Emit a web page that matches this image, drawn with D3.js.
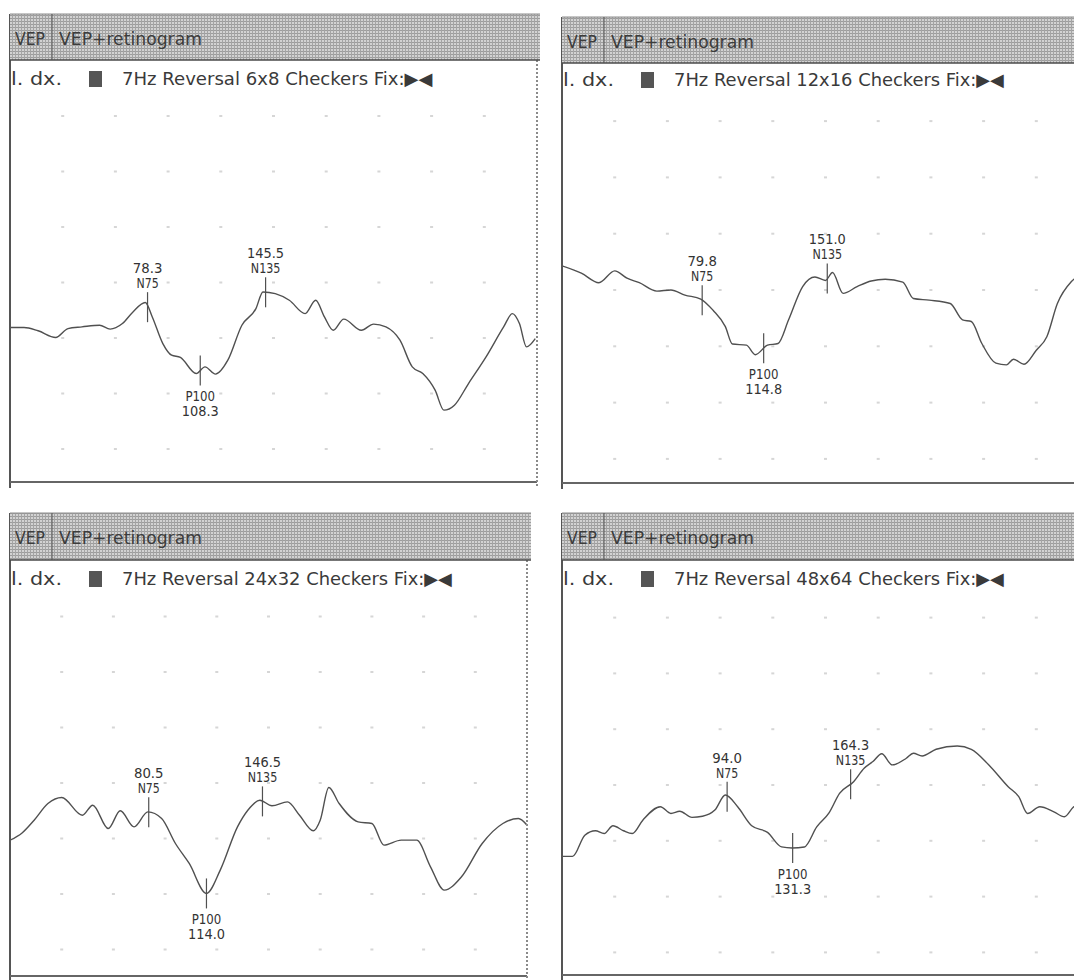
<!DOCTYPE html>
<html>
<head>
<meta charset="utf-8">
<script src="https://cdn.jsdelivr.net/npm/d3@7"></script>
<style>
  body { margin: 0; background: #fff; }
  text { font-family: "Liberation Sans Narrow", "DejaVu Sans Condensed", "Liberation Sans", sans-serif; }
</style>
</head>
<body>
<svg id="chart" width="1074" height="980"></svg>
<script>
// stimulus / peak names
const checkerSizes = ['6x8', '12x16', '24x32', '48x64'];
const peakNames = ['N75', 'P100', 'N135'];

// peak latencies (ms), same order as peakNames
const peaks6x8 = [78.3, 108.3, 145.5];
const peaks12x16 = [79.8, 114.8, 151.0];
const peaks24x32 = [80.5, 114.0, 146.5];
const peaks48x64 = [94.0, 131.3, 164.3];

// traces: time (ms) and amplitude (grid divisions, up = negative)
const t6x8 = [0, 8, 16, 26, 33, 41, 51, 57, 64, 70, 77, 81, 87, 92, 97, 106, 111, 117, 124, 132, 140, 144, 151, 159, 168, 174, 179, 184, 190, 200, 207, 214, 222, 229, 235, 242, 247, 253, 261, 271, 281, 286, 290, 294, 299];
const v6x8 = [-0.81, -0.81, -0.87, -0.99, -0.83, -0.80, -0.77, -0.84, -0.74, -0.53, -0.36, -0.62, -1.10, -1.31, -1.35, -1.64, -1.52, -1.65, -1.40, -0.77, -0.47, -0.17, -0.20, -0.32, -0.56, -0.32, -0.62, -0.86, -0.66, -0.86, -0.75, -0.80, -1.04, -1.52, -1.64, -1.94, -2.30, -2.21, -1.82, -1.34, -0.80, -0.56, -0.74, -1.16, -1.01];

const t12x16 = [0, 11, 21, 30, 37, 44, 54, 62, 70, 79, 86, 93, 97, 105, 110, 117, 123, 129, 137, 144, 150, 154, 160, 168, 176, 184, 194, 200, 209, 221, 228, 233, 239, 247, 253, 257, 263, 270, 276, 282, 290, 297];
const v12x16 = [0.43, 0.30, 0.13, 0.34, 0.21, 0.13, -0.02, 0.00, -0.09, -0.16, -0.36, -0.65, -0.96, -0.98, -1.15, -0.98, -0.95, -0.53, 0.06, 0.23, 0.17, 0.31, -0.06, 0.06, 0.16, 0.19, 0.14, -0.15, -0.18, -0.24, -0.53, -0.56, -0.95, -1.30, -1.33, -1.23, -1.32, -1.07, -0.83, -0.24, 0.15, 0.30];

const t24x32 = [0, 7, 14, 22, 30, 42, 48, 57, 64, 72, 80, 88, 96, 104, 114, 122, 132, 138, 145, 152, 161, 168, 176, 180, 185, 191, 202, 210, 217, 227, 236, 244, 252, 262, 274, 286, 295, 300];
const v24x32 = [-1.03, -0.90, -0.67, -0.37, -0.26, -0.58, -0.40, -0.82, -0.50, -0.79, -0.52, -0.64, -1.09, -1.45, -1.99, -1.57, -0.79, -0.49, -0.31, -0.41, -0.34, -0.58, -0.86, -0.67, -0.08, -0.37, -0.70, -0.73, -1.12, -1.03, -1.03, -1.51, -1.93, -1.69, -1.09, -0.73, -0.64, -0.76];

const t48x64 = [0, 6, 13, 19, 24, 29, 35, 40, 46, 56, 62, 67, 74, 80, 87, 93, 100, 108, 117, 125, 131, 138, 145, 152, 158, 166, 172, 177, 182, 188, 196, 200, 205, 213, 225, 233, 243, 254, 260, 265, 272, 280, 286, 291, 297];
const v48x64 = [-1.28, -1.28, -0.90, -0.82, -0.87, -0.73, -0.82, -0.87, -0.63, -0.39, -0.51, -0.47, -0.58, -0.56, -0.45, -0.18, -0.39, -0.73, -0.85, -1.11, -1.13, -1.11, -0.75, -0.50, -0.15, 0.06, 0.30, 0.42, 0.56, 0.36, 0.48, 0.57, 0.52, 0.64, 0.70, 0.64, 0.36, -0.03, -0.21, -0.51, -0.39, -0.48, -0.57, -0.40, -0.30];

// grid dot positions
const dotTimes = [30, 60, 90, 120, 150, 180, 210, 240, 270];
const dotLevels = [3, 2, 1, 0, -1, -2, -3];

const traces = [
  { size: checkerSizes[0], t: t6x8, v: v6x8, peaks: peaks6x8 },
  { size: checkerSizes[1], t: t12x16, v: v12x16, peaks: peaks12x16 },
  { size: checkerSizes[2], t: t24x32, v: v24x32, peaks: peaks24x32 },
  { size: checkerSizes[3], t: t48x64, v: v48x64, peaks: peaks48x64 },
];

// panel boxes on the page
const layout = [
  { x0: 10, w: 527, top: 14, hb: 60, bottom: 482, hr: 540, mid: 282.5, step: 55.5, right: 537, sub: 85 },
  { x0: 562, w: 527, top: 17, hb: 63, bottom: 483, hr: 1074, mid: 290, step: 56.3, right: null, sub: 86 },
  { x0: 10, w: 517, top: 513, hb: 560, bottom: 976, hr: 531, mid: 783, step: 55.5, right: 527, sub: 585 },
  { x0: 562, w: 527, top: 513, hb: 560, bottom: 975, hr: 1074, mid: 785, step: 55.8, right: null, sub: 585 },
];

const svg = d3.select('#chart');
svg.append('rect').attr('width', 1074).attr('height', 980).attr('fill', '#fff');

// header hatch
const defs = svg.append('defs');
const pat = defs.append('pattern')
  .attr('id', 'hatch')
  .attr('width', 3).attr('height', 3)
  .attr('patternUnits', 'userSpaceOnUse');
pat.append('rect').attr('width', 3).attr('height', 3).attr('fill', '#d2d2d2');
pat.append('rect').attr('width', 3).attr('height', 1).attr('fill', '#9c9c9c');
pat.append('rect').attr('width', 1).attr('height', 3).attr('fill', '#a4a4a4');

function valueAt(t, v, time) {
  const i = Math.max(1, Math.min(t.length - 1, d3.bisectLeft(t, time)));
  const k = (time - t[i - 1]) / (t[i] - t[i - 1]);
  return v[i - 1] + k * (v[i] - v[i - 1]);
}

traces.forEach((tr, idx) => {
  const p = layout[idx];
  const g = svg.append('g').attr('class', 'panel');
  const xEnd = Math.min(1074, p.x0 + p.w);

  const x = d3.scaleLinear().domain([0, 300]).range([p.x0, p.x0 + p.w]);
  const y = d3.scaleLinear().domain([0, 1]).range([p.mid, p.mid - p.step]);

  defs.append('clipPath').attr('id', 'clip' + idx)
    .append('rect')
    .attr('x', p.x0).attr('y', p.hb)
    .attr('width', xEnd - p.x0).attr('height', p.bottom - p.hb);

  // grid dots
  const dots = d3.cross(dotTimes, dotLevels);
  g.append('g')
    .selectAll('rect')
    .data(dots)
    .join('rect')
    .attr('x', d => x(d[0]) - 1.5)
    .attr('y', d => y(d[1]) - 1)
    .attr('width', 3)
    .attr('height', 2)
    .attr('fill', '#d6d6d6');

  // trace
  const pts = tr.t.map((d, i) => [d, tr.v[i]]);
  g.append('path')
    .datum(pts)
    .attr('clip-path', 'url(#clip' + idx + ')')
    .attr('d', d3.line().x(d => x(d[0])).y(d => y(d[1])).curve(d3.curveMonotoneX))
    .attr('fill', 'none')
    .attr('stroke', '#505050')
    .attr('stroke-width', 1.4);

  // peak markers
  const marks = tr.peaks.map((lat, i) => ({ name: peakNames[i], lat, val: valueAt(tr.t, tr.v, lat) }));
  const mg = g.append('g').selectAll('g').data(marks).join('g')
    .attr('transform', d => `translate(${x(d.lat)},${y(d.val)})`);
  mg.append('line')
    .attr('y1', -15).attr('y2', 15)
    .attr('stroke', '#505050').attr('stroke-width', 1.2);
  mg.each(function (d) {
    const s = d3.select(this);
    const up = d.name[0] === 'N';
    const lines = up ? [d.lat.toFixed(1), d.name] : [d.name, d.lat.toFixed(1)];
    const base = up ? [-34, -19] : [31, 46];
    lines.forEach((txt, j) => {
      s.append('text')
        .attr('y', base[j])
        .attr('text-anchor', 'middle')
        .attr('font-size', 14)
        .attr('fill', '#333')
        .attr('textLength', txt.length * 7.4)
        .attr('lengthAdjust', 'spacingAndGlyphs')
        .text(txt);
    });
  });

  // borders
  g.append('line')
    .attr('x1', p.x0).attr('x2', p.x0)
    .attr('y1', p.top).attr('y2', p.bottom + 6)
    .attr('stroke', '#555').attr('stroke-width', 2);
  g.append('line')
    .attr('x1', p.x0).attr('x2', xEnd)
    .attr('y1', p.bottom).attr('y2', p.bottom)
    .attr('stroke', '#666').attr('stroke-width', 2);
  if (p.right) {
    g.append('line')
      .attr('x1', p.right).attr('x2', p.right)
      .attr('y1', p.hb).attr('y2', p.bottom + 6)
      .attr('stroke', '#8a8a8a').attr('stroke-width', 2)
      .attr('stroke-dasharray', '2,2');
  }

  // header band
  g.append('rect')
    .attr('x', p.x0).attr('y', p.top)
    .attr('width', p.hr - p.x0).attr('height', p.hb - p.top)
    .attr('fill', 'url(#hatch)');
  g.append('line')
    .attr('x1', p.x0).attr('x2', p.hr)
    .attr('y1', p.top).attr('y2', p.top)
    .attr('stroke', '#8c8c8c').attr('stroke-width', 1);
  g.append('line')
    .attr('x1', p.x0).attr('x2', p.hr)
    .attr('y1', p.hb).attr('y2', p.hb)
    .attr('stroke', '#4a4a4a').attr('stroke-width', 1.6);
  g.append('line')
    .attr('x1', p.x0 + 42).attr('x2', p.x0 + 42)
    .attr('y1', p.top).attr('y2', p.hb)
    .attr('stroke', '#555').attr('stroke-width', 1);
  g.append('text')
    .attr('x', p.x0 + 5).attr('y', p.top + 31)
    .attr('font-size', 18).attr('fill', '#3c3c3c')
    .attr('textLength', 30).attr('lengthAdjust', 'spacingAndGlyphs')
    .text('VEP');
  g.append('text')
    .attr('x', p.x0 + 49).attr('y', p.top + 31)
    .attr('font-size', 18).attr('fill', '#3c3c3c')
    .attr('textLength', 143).attr('lengthAdjust', 'spacingAndGlyphs')
    .text('VEP+retinogram');

  // stimulus line
  g.append('text')
    .attr('x', p.x0 + 1).attr('y', p.sub)
    .attr('font-size', 18).attr('fill', '#3a3a3a')
    .attr('textLength', 51).attr('lengthAdjust', 'spacingAndGlyphs')
    .text('l. dx.');
  g.append('rect')
    .attr('x', p.x0 + 79).attr('y', p.sub - 14)
    .attr('width', 13).attr('height', 16)
    .attr('fill', '#555');
  const sub = `7Hz Reversal ${tr.size} Checkers Fix:▶◀`;
  g.append('text')
    .attr('x', p.x0 + 112).attr('y', p.sub)
    .attr('font-size', 18).attr('fill', '#3a3a3a')
    .attr('textLength', sub.length * 9.7).attr('lengthAdjust', 'spacingAndGlyphs')
    .text(sub);
});
</script>
</body>
</html>
